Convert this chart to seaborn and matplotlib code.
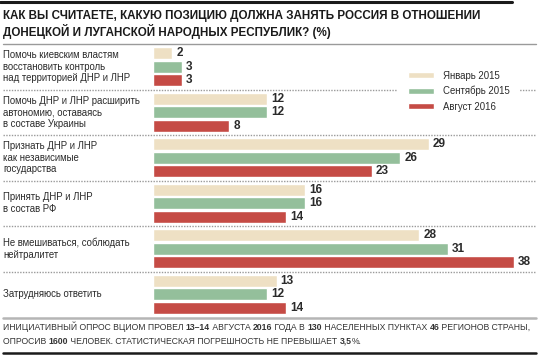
import pandas as pd
import matplotlib
matplotlib.use('Agg')
import matplotlib.pyplot as plt
import seaborn as sns
from matplotlib.lines import Line2D
from matplotlib.transforms import blended_transform_factory

# ==========================================
# Data
# ==========================================
categories = [
    'Помочь киевским властям\nвосстановить контроль\nнад территорией ДНР и ЛНР',
    'Помочь ДНР и ЛНР расширить\nавтономию, оставаясь\nв составе Украины',
    'Признать ДНР и ЛНР\nкак независимые\nгосударства',
    'Принять ДНР и ЛНР\nв состав РФ',
    'Не вмешиваться, соблюдать\nнейтралитет',
    'Затрудняюсь ответить',
]
periods = ['Январь 2015', 'Сентябрь 2015', 'Август 2016']
jan_2015 = [2, 12, 29, 16, 28, 13]
sep_2015 = [3, 12, 26, 16, 31, 12]
aug_2016 = [3, 8, 23, 14, 38, 14]
colors = ['#EEE0C4', '#94BF9B', '#C54B45']

title = ('КАК ВЫ СЧИТАЕТЕ, КАКУЮ ПОЗИЦИЮ ДОЛЖНА ЗАНЯТЬ РОССИЯ В ОТНОШЕНИИ\n'
         'ДОНЕЦКОЙ И ЛУГАНСКОЙ НАРОДНЫХ РЕСПУБЛИК? (%)')
# footnote pieces: (text, bold)
note_line1 = [('ИНИЦИАТИВНЫЙ ОПРОС ВЦИОМ ПРОВЕЛ ', False), ('13–14', True),
              (' АВГУСТА ', False), ('2016', True), (' ГОДА В ', False),
              ('130', True), (' НАСЕЛЕННЫХ ПУНКТАХ ', False), ('46', True),
              (' РЕГИОНОВ СТРАНЫ,', False)]
note_line2 = [('ОПРОСИВ ', False), ('1600', True),
              (' ЧЕЛОВЕК. СТАТИСТИЧЕСКАЯ ПОГРЕШНОСТЬ НЕ ПРЕВЫШАЕТ ', False),
              ('3,5', True), ('%.', False)]

df = pd.DataFrame({
    'category': categories * 3,
    'period': [p for p in periods for _ in categories],
    'value': jan_2015 + sep_2015 + aug_2016,
})

# ==========================================
# Figure
# ==========================================
sns.set_style('white')
plt.rcParams['font.family'] = ['Liberation Sans', 'DejaVu Sans']
TXT = '#2b2b2b'

W, H = 539, 355
fig = plt.figure(figsize=(W / 100, H / 100), dpi=100)
ax = fig.add_axes([153 / W, 1 - 317 / H, 380 / W, 273 / H])

sns.barplot(data=df, y='category', x='value', hue='period', orient='h',
            palette=colors, width=0.89, gap=0.11, saturation=1,
            ax=ax, legend=True)
ax.set_xlim(0, 40)
ax.set_ylim(5.5, -0.5)
ax.axis('off')

for cont in ax.containers:
    ax.bar_label(cont, padding=3, fontsize=8.5, fontweight='bold', color=TXT)

# legend
handles, labels = ax.get_legend_handles_labels()
ax.legend(handles, labels, loc='upper left',
          bbox_to_anchor=(397 / W, 1 - 60 / H), bbox_transform=fig.transFigure,
          borderaxespad=0, borderpad=1.1, frameon=True, facecolor='white',
          edgecolor='none', framealpha=1, fancybox=False,
          handlelength=2.75, handleheight=0.64, handletextpad=0.95,
          labelspacing=0.55, fontsize=6.9, labelcolor=TXT)

# category labels and separators
tr = blended_transform_factory(fig.transFigure, ax.transData)
for i, cat in enumerate(categories):
    fig.text(3 / W, i, cat, transform=tr, ha='left', va='center',
             fontsize=6.9, color=TXT, linespacing=1.2)
for i in range(len(categories) - 1):
    fig.add_artist(Line2D([3 / W, 536 / W], [i + 0.5, i + 0.5], transform=tr,
                          color='#9a9a9a', lw=1, ls=(0, (1, 1)), zorder=0))

# frame lines
fig.add_artist(Line2D([0, 512 / W], [1 - 1.5 / H] * 2, color='#1a1a1a', lw=2.2))
fig.add_artist(Line2D([3 / W, 536 / W], [1 - 44 / H] * 2, color='#9a9a9a', lw=1))
fig.add_artist(Line2D([3 / W, 536 / W], [1 - 317.5 / H] * 2, color='#b5b5b5', lw=1.8))
fig.add_artist(Line2D([3 / W, 536 / W], [1 - 352.5 / H] * 2, color='#1a1a1a', lw=1.8))

# title
fig.text(3 / W, 1 - 10 / H, title, ha='left', va='top', fontsize=8.4,
         fontweight='bold', color='#1a1a1a', linespacing=1.15)

# footnote with bold numbers
renderer = fig.canvas.get_renderer()


def draw_pieces(pieces, y_px):
    x = 3
    for text, bold in pieces:
        t = fig.text(x / W, 1 - y_px / H, text, ha='left', va='center',
                     fontsize=6.2, color='#333333',
                     fontweight='bold' if bold else 'normal')
        x += t.get_window_extent(renderer).width


draw_pieces(note_line1, 327)
draw_pieces(note_line2, 341)

plt.savefig('out.png', dpi=100)
